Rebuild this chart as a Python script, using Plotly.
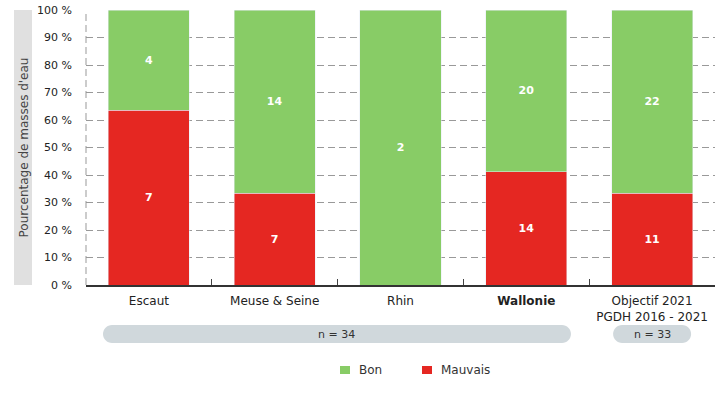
import plotly.graph_objects as go

categories = ["Escaut", "Meuse & Seine", "Rhin", "<b>Wallonie</b>", "Objectif 2021<br>PGDH 2016 - 2021"]
bon_counts = [4, 14, 2, 20, 22]
mauvais_counts = [7, 7, 0, 14, 11]
tick_vals = [0, 10, 20, 30, 40, 50, 60, 70, 80, 90, 100]
tick_text = [f"{v} %" for v in tick_vals]

totals = [b + m for b, m in zip(bon_counts, mauvais_counts)]
bon_pct = [b / t * 100 for b, t in zip(bon_counts, totals)]
mauvais_pct = [m / t * 100 for m, t in zip(mauvais_counts, totals)]

GREEN = "#88cc66"
RED = "#e52722"
FONT = "DejaVu Sans"
PW, PH = 629, 275  # plot area in px

fig = go.Figure()
fig.add_trace(go.Bar(
    x=categories, y=mauvais_pct, name="Mauvais", marker_color=RED,
    text=[str(v) if v else "" for v in mauvais_counts],
    textposition="inside", insidetextanchor="middle",
    textfont=dict(color="white", size=11, family=FONT), texttemplate="<b>%{text}</b>",
    hoverinfo="skip", showlegend=False,
))
fig.add_trace(go.Bar(
    x=categories, y=bon_pct, name="Bon", marker_color=GREEN,
    text=[str(v) if v else "" for v in bon_counts],
    textposition="inside", insidetextanchor="middle",
    textfont=dict(color="white", size=11, family=FONT), texttemplate="<b>%{text}</b>",
    hoverinfo="skip", showlegend=False,
))

fig.update_layout(
    width=725, height=400,
    margin=dict(l=86, r=10, t=10, b=115, autoexpand=False),
    barmode="stack", bargap=0.355,
    plot_bgcolor="white", paper_bgcolor="white",
    font=dict(family=FONT, size=11, color="#333333"),
    showlegend=False,
    uniformtext=dict(mode="show", minsize=11),
)
fig.update_xaxes(
    type="category", range=[-0.5, 4.5], automargin=False,
    showline=True, linecolor="#333333", linewidth=2,
    ticks="inside", tickson="boundaries", ticklen=6, tickcolor="#444444",
    tickfont=dict(size=12, color="#222222"), showgrid=False, ticklabelstandoff=4,
)
fig.update_yaxes(
    range=[0, 100], tickvals=tick_vals, ticktext=tick_text, automargin=False,
    showgrid=True, gridcolor="#999999", griddash="7px,4px", gridwidth=1,
    zeroline=False, showline=False, ticks="", ticklabelstandoff=13,
    tickfont=dict(size=11, color="#222222"),
)

# left dashed frame line
fig.add_shape(type="line", xref="paper", yref="paper", x0=0, x1=0, y0=0, y1=1,
              line=dict(color="#999999", width=1, dash="7px,4px"), layer="below")

# grey band behind y axis title
fig.add_shape(type="rect", xref="paper", yref="paper", x0=-72/PW, x1=-54/PW, y0=0, y1=1,
              fillcolor="#e0e0e0", line=dict(width=0), layer="below")
fig.add_annotation(text="Pourcentage de masses d'eau", xref="paper", yref="paper",
                   x=-63/PW, y=0.5, textangle=-90, showarrow=False,
                   xanchor="center", yanchor="middle",
                   font=dict(size=12, color="#444444"))

# rounded pills with sample size
def pill(x0, x1, y0, y1, rpx=9):
    rx = rpx / (PW / 5)
    ry = rpx / PH
    ym = (y0 + y1) / 2
    k = 0.552
    return (f"M {x0+rx},{y1} L {x1-rx},{y1} "
            f"C {x1-rx+rx*k},{y1} {x1},{ym+ry*k} {x1},{ym} "
            f"C {x1},{ym-ry*k} {x1-rx+rx*k},{y0} {x1-rx},{y0} "
            f"L {x0+rx},{y0} "
            f"C {x0+rx-rx*k},{y0} {x0},{ym-ry*k} {x0},{ym} "
            f"C {x0},{ym+ry*k} {x0+rx-rx*k},{y1} {x0+rx},{y1} Z")

py0, py1 = -58/PH, -40/PH
for (a, b, label) in [(-0.365, 3.355, "n = 34"), (3.69, 4.31, "n = 33")]:
    fig.add_shape(type="path", xref="x", yref="paper", path=pill(a, b, py0, py1),
                  fillcolor="#d0d8dc", line=dict(width=0))
    fig.add_annotation(text=label, xref="x", yref="paper", x=(a + b) / 2, y=(py0 + py1) / 2,
                       xanchor="center", yanchor="middle",
                       showarrow=False, font=dict(size=11, color="#333333"))

# legend (manual)
ly0, ly1 = (285 - 374) / PH, (285 - 366) / PH
for (name, color, sx) in [("Bon", GREEN, 340), ("Mauvais", RED, 422)]:
    fig.add_shape(type="rect", xref="paper", yref="paper",
                  x0=(sx - 86) / PW, x1=(sx + 10 - 86) / PW, y0=ly0, y1=ly1,
                  fillcolor=color, line=dict(width=0))
    fig.add_annotation(text=name, xref="paper", yref="paper",
                       x=(sx + 17 - 86) / PW, y=(ly0 + ly1) / 2,
                       xanchor="left", yanchor="middle", showarrow=False,
                       font=dict(size=12, color="#333333"))

fig.write_html("out.html")
